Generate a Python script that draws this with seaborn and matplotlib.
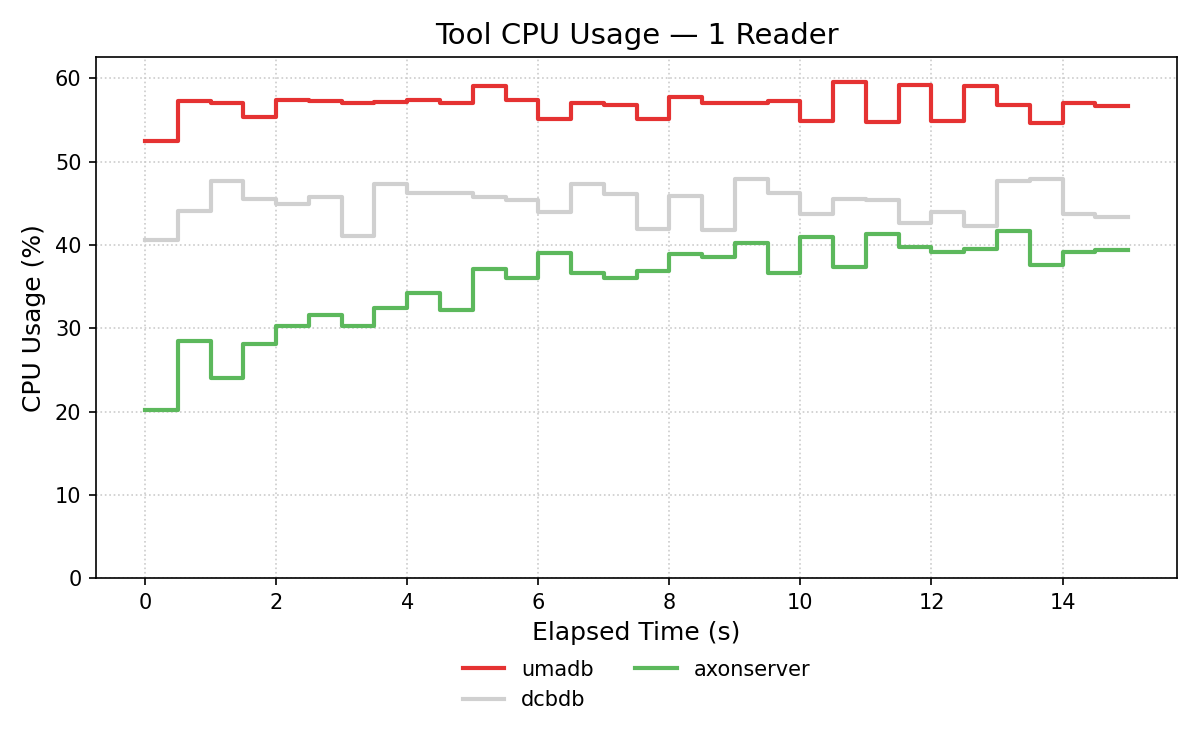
import pandas as pd
import matplotlib
matplotlib.use('Agg')
import matplotlib.pyplot as plt
import seaborn as sns

# sample times (s), one reading every half second
elapsed = [i * 0.5 for i in range(31)]

umadb = [52.5, 57.3, 57.0, 55.4, 57.4, 57.3, 57.0, 57.2, 57.4, 57.0,
         59.1, 57.4, 55.1, 57.0, 56.8, 55.1, 57.8, 57.0, 57.0, 57.3,
         54.9, 59.6, 54.8, 59.2, 54.9, 59.1, 56.8, 54.6, 57.0, 56.7, 56.7]
dcbdb = [40.6, 44.1, 47.7, 45.5, 44.9, 45.8, 41.1, 47.3, 46.3, 46.3,
         45.8, 45.4, 44.0, 47.3, 46.1, 41.9, 45.9, 41.8, 47.9, 46.3,
         43.7, 45.5, 45.4, 42.6, 44.0, 42.3, 47.7, 47.9, 43.7, 43.4, 43.4]
axonserver = [20.2, 28.5, 24.1, 28.1, 30.3, 31.6, 30.3, 32.4, 34.3, 32.2,
              37.1, 36.0, 39.1, 36.6, 36.0, 36.9, 38.9, 38.6, 40.2, 36.6,
              41.0, 37.4, 41.3, 39.8, 39.2, 39.5, 41.7, 37.6, 39.2, 39.4, 39.4]

tools = ['umadb', 'dcbdb', 'axonserver']
colors = {'umadb': '#e53232', 'dcbdb': '#d0d0d0', 'axonserver': '#5cb85c'}

df = pd.concat([
    pd.DataFrame({'time': elapsed, 'cpu': umadb, 'tool': 'umadb'}),
    pd.DataFrame({'time': elapsed, 'cpu': dcbdb, 'tool': 'dcbdb'}),
    pd.DataFrame({'time': elapsed, 'cpu': axonserver, 'tool': 'axonserver'}),
])

plt.rcParams['font.family'] = ['DejaVu Sans']

fig, ax = plt.subplots(figsize=(8, 5), dpi=150)
fig.subplots_adjust(left=0.08, right=0.981, top=0.924, bottom=0.229)

sns.lineplot(data=df, x='time', y='cpu', hue='tool', hue_order=tools,
             palette=colors, drawstyle='steps-post', linewidth=2, ax=ax)

ax.set_ylim(0, max(umadb + dcbdb + axonserver) * 1.05)
ax.set_xticks(range(0, 16, 2))
ax.grid(True, linestyle=':', color='#cccccc', linewidth=0.8)
ax.set_title('Tool CPU Usage — 1 Reader', fontsize=14)
ax.set_xlabel('Elapsed Time (s)', fontsize=12)
ax.set_ylabel('CPU Usage (%)', fontsize=12)
ax.tick_params(labelsize=10)

ax.legend(loc='upper center', bbox_to_anchor=(0.5, -0.12), ncol=2,
          frameon=False, fontsize=10)

plt.savefig('out.png')
